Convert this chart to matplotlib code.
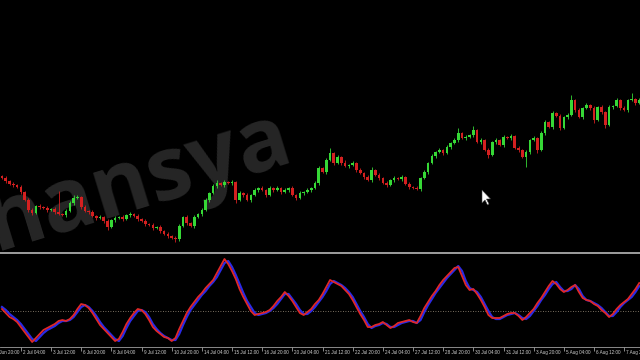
import numpy as np
import matplotlib
matplotlib.use("Agg")
import matplotlib.pyplot as plt
from matplotlib.patches import Polygon
from matplotlib.transforms import IdentityTransform

# H4 candles, prices in chart points (no price scale is shown)
first_open = 74
closes = [72, 69, 66, 65, 63, 58, 50, 40, 37, 44,
          43, 42, 40, 41, 38, 36, 35, 39, 47, 52,
          53, 43, 39, 38, 34, 32, 33, 29, 23, 30,
          32, 33, 31, 35, 36, 34, 31, 29, 26, 25,
          22, 23, 19, 16, 14, 12, 11, 24, 33, 27,
          24, 33, 36, 40, 50, 57, 64, 67, 65, 68,
          67, 68, 50, 57, 55, 50, 55, 60, 62, 60,
          55, 62, 60, 62, 58, 60, 62, 55, 52, 57,
          58, 60, 62, 67, 82, 78, 90, 97, 87, 93,
          87, 84, 85, 87, 80, 77, 73, 70, 80, 75,
          72, 67, 65, 70, 72, 71, 73, 66, 63, 62,
          61, 72, 78, 87, 94, 98, 100, 97, 103, 107,
          110, 117, 112, 113, 115, 120, 108, 110, 100, 95,
          108, 110, 105, 113, 112, 114, 102, 100, 93, 98,
          110, 112, 100, 117, 128, 123, 137, 134, 122, 133,
          135, 150, 140, 133, 142, 145, 142, 130, 143, 138,
          125, 143, 144, 150, 142, 140, 150, 151, 147, 150]
wick_up = [1, 2, 1, 2, 1, 2, 1, 2, 2, 1,
           2, 1, 2, 1, 2, 21, 1, 2, 2, 3,
           2, 1, 2, 1, 2, 1, 2, 1, 2, 1,
           2, 1, 2, 1, 2, 1, 2, 1, 2, 1,
           2, 1, 2, 1, 2, 1, 2, 2, 1, 2,
           1, 2, 1, 2, 2, 1, 2, 3, 1, 2,
           1, 2, 1, 2, 1, 2, 1, 2, 1, 2,
           1, 2, 1, 2, 1, 2, 1, 2, 1, 2,
           1, 2, 1, 2, 2, 1, 2, 5, 1, 2,
           1, 3, 1, 2, 1, 2, 1, 2, 3, 1,
           2, 1, 2, 1, 2, 1, 2, 1, 2, 1,
           2, 1, 2, 1, 2, 1, 2, 1, 2, 1,
           2, 5, 1, 2, 1, 4, 1, 2, 1, 2,
           1, 2, 1, 2, 1, 2, 1, 2, 1, 2,
           1, 2, 1, 2, 2, 1, 2, 1, 2, 1,
           2, 5, 1, 2, 1, 2, 1, 2, 1, 2,
           1, 2, 1, 2, 1, 2, 1, 6, 1, 2]
wick_dn = [1, 2, 1, 2, 1, 2, 1, 2, 2, 1,
           2, 1, 2, 1, 2, 1, 1, 2, 1, 2,
           1, 2, 1, 2, 1, 2, 1, 2, 3, 1,
           2, 1, 2, 1, 2, 1, 2, 1, 2, 1,
           2, 1, 2, 1, 2, 1, 3, 2, 1, 2,
           1, 2, 1, 2, 1, 2, 1, 2, 1, 2,
           1, 2, 3, 1, 2, 1, 2, 1, 2, 1,
           2, 1, 2, 1, 2, 1, 2, 1, 2, 1,
           2, 1, 2, 1, 2, 1, 2, 1, 2, 1,
           2, 1, 2, 1, 2, 1, 2, 1, 2, 1,
           2, 1, 2, 1, 2, 1, 2, 1, 2, 1,
           1, 2, 1, 2, 1, 2, 1, 2, 1, 2,
           1, 2, 1, 2, 1, 2, 1, 2, 1, 3,
           1, 2, 1, 2, 1, 2, 1, 2, 1, 10,
           2, 1, 3, 1, 2, 1, 2, 1, 2, 1,
           2, 1, 2, 1, 2, 1, 2, 3, 1, 2,
           3, 1, 2, 1, 2, 1, 2, 1, 2, 1]

# oscillator, main line (red) and signal line (blue)
osc_main = [38, 34, 30, 28, 25, 20, 15, 10, 5, 9,
            13, 17, 19, 21, 23, 26, 27, 26, 28, 32,
            38, 43, 42, 39, 34, 28, 22, 18, 14, 10,
            6, 8, 15, 23, 29, 34, 38, 37, 33, 27,
            20, 16, 13, 10, 9, 6, 9, 18, 26, 34,
            40, 45, 50, 54, 59, 63, 67, 74, 81, 88,
            83, 76, 68, 58, 50, 43, 36, 32, 33, 34,
            35, 37, 41, 46, 50, 55, 51, 46, 40, 34,
            32, 35, 38, 43, 47, 53, 60, 67, 65, 63,
            61, 57, 53, 47, 40, 33, 27, 20, 20, 22,
            23, 25, 22, 19, 21, 24, 25, 26, 27, 25,
            24, 31, 39, 45, 51, 56, 62, 67, 71, 75,
            79, 80, 71, 62, 57, 58, 53, 47, 40, 32,
            29, 29, 29, 31, 33, 34, 34, 31, 27, 30,
            34, 38, 44, 49, 55, 61, 66, 63, 58, 55,
            57, 60, 62, 55, 49, 47, 46, 43, 41, 37,
            34, 30, 33, 38, 42, 45, 48, 53, 58, 64]
osc_signal = [40, 37, 33, 30, 27, 23, 18, 13, 8, 6,
              10, 14, 17, 19, 21, 24, 26, 26, 27, 30,
              35, 40, 42, 40, 36, 31, 25, 20, 16, 12,
              8, 6, 11, 19, 26, 31, 36, 37, 35, 30,
              23, 18, 14, 11, 9, 7, 7, 13, 22, 30,
              37, 42, 47, 52, 56, 61, 65, 70, 77, 84,
              86, 80, 72, 63, 54, 46, 40, 34, 32, 33,
              34, 36, 39, 43, 48, 53, 53, 48, 43, 37,
              33, 33, 36, 40, 45, 50, 56, 63, 66, 64,
              62, 59, 55, 50, 43, 36, 30, 23, 19, 21,
              22, 24, 23, 20, 20, 22, 24, 25, 26, 26,
              24, 27, 35, 42, 48, 54, 59, 64, 69, 73,
              77, 81, 76, 66, 59, 57, 55, 50, 43, 36,
              30, 28, 28, 30, 32, 33, 34, 32, 29, 28,
              31, 36, 41, 47, 52, 58, 63, 65, 60, 56,
              56, 58, 62, 58, 51, 47, 46, 44, 42, 39,
              35, 31, 31, 35, 40, 44, 47, 50, 55, 61]
osc_level = 36

tick_labels = ["30 Jun 20:00", "2 Jul 04:00", "3 Jul 12:00", "6 Jul 20:00",
               "8 Jul 04:00", "9 Jul 12:00", "10 Jul 20:00", "14 Jul 04:00",
               "15 Jul 12:00", "16 Jul 20:00", "20 Jul 04:00", "21 Jul 12:00",
               "22 Jul 20:00", "24 Jul 04:00", "27 Jul 12:00", "28 Jul 20:00",
               "30 Jul 04:00", "31 Jul 12:00", "3 Aug 20:00", "5 Aug 04:00",
               "6 Aug 12:00", "7 Aug 20:00"]
tick_bars = list(range(-3, 166, 8))

GREEN = "#36d836"
RED = "#d42020"

c = np.array(closes, dtype=float)
o = np.concatenate([[first_open], c[:-1]])
hi = np.maximum(o, c) + np.array(wick_up)
lo = np.minimum(o, c) - np.array(wick_dn)
x = np.arange(len(c))
up = c >= o
colors = np.where(up, GREEN, RED)

fig = plt.figure(figsize=(6.4, 3.6), dpi=100, facecolor="black")
ax = fig.add_axes([0, 0.3, 1, 0.7], facecolor="black")
ax2 = fig.add_axes([0, 0.0361, 1, 0.2611], facecolor="black", sharex=ax)

# watermark
ax.text(0.461, 0.37, "hansya", transform=ax.transAxes, fontsize=63,
        fontweight="bold", family="Open Sans", color="#262626",
        rotation=17, rotation_mode="anchor", ha="right", va="baseline",
        zorder=0)

ax.vlines(x, lo, hi, color=colors, lw=0.6, zorder=2)
ax.bar(x, np.maximum(np.abs(c - o), 1.0), bottom=np.minimum(o, c), width=0.7,
       color=colors, linewidth=0, zorder=3)
ax.set_ylim(-2, 250)
ax.axis("off")

ax2.plot(x, osc_signal, color="#2a2ae6", lw=1.6, zorder=3)
ax2.plot(x, osc_main, color="#e02828", lw=1.3, zorder=4)
ax2.axhline(osc_level, color="#a09480", lw=0.6, ls=(0, (1, 2)), zorder=1)
ax2.set_ylim(0, 94)
for s in ["left", "right"]:
    ax2.spines[s].set_visible(False)
ax2.spines["top"].set_color("#b8b8b8")
ax2.spines["top"].set_linewidth(1.2)
ax2.spines["bottom"].set_color("#a0a0a0")
ax2.spines["bottom"].set_linewidth(0.6)
ax2.set_yticks([])
ax2.set_xticks(tick_bars)
ax2.set_xticklabels([])
ax2.tick_params(axis="x", direction="out", length=3, width=0.6, color="#a0a0a0")

for b, lab in zip(tick_bars, tick_labels):
    ax2.annotate(lab, xy=(b, 0), xycoords=("data", "axes fraction"),
                 xytext=(1.5, -2.2), textcoords="offset points",
                 ha="left", va="top", fontsize=3.3, family="Liberation Sans",
                 color="#cfcfcf", annotation_clip=False)

# set the bar range last, after the ticks (one tick lies left of the view)
ax.set_xlim(-0.53, 169.2)

# mouse pointer left on the chart
pts = np.array([(482, 170), (482, 157), (485, 160), (487.5, 155), (489, 156),
                (486.5, 161), (490.5, 161)])
fig.add_artist(Polygon(pts, closed=True, facecolor="white", edgecolor="#444444",
                       lw=0.4, transform=IdentityTransform()))

fig.savefig("out.png", dpi=100, facecolor="black")
